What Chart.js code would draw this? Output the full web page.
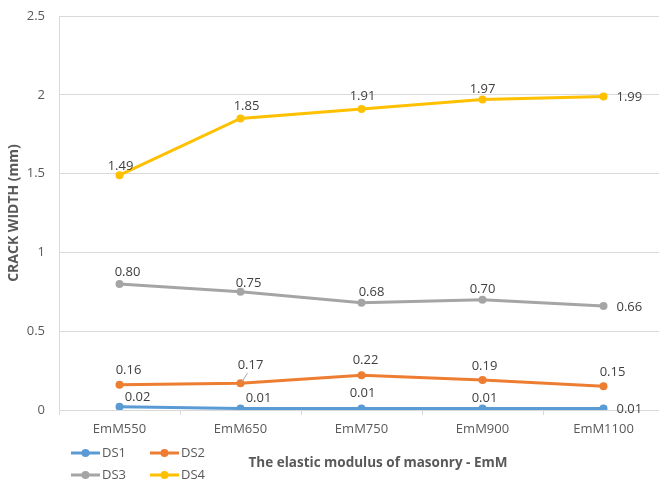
<!DOCTYPE html>
<html>
<head>
<meta charset="utf-8">
<script src="https://cdn.jsdelivr.net/npm/chart.js@4/dist/chart.umd.min.js"></script>
<style>
  html, body { margin: 0; padding: 0; background: #fff; overflow: hidden; }
  #wrap { width: 659px; height: 483px; overflow: hidden; position: relative; }
  canvas { display: block; }
</style>
</head>
<body>
<div id="wrap"><canvas id="c" width="668" height="483"></canvas></div>
<script>
// Crack width (mm) per damage state for each masonry elastic modulus case
const categories = ['EmM550', 'EmM650', 'EmM750', 'EmM900', 'EmM1100'];
const seriesNames = ['DS1', 'DS2', 'DS3', 'DS4'];
const ds1 = [0.02, 0.01, 0.01, 0.01, 0.01];
const ds2 = [0.16, 0.17, 0.22, 0.19, 0.15];
const ds3 = [0.80, 0.75, 0.68, 0.70, 0.66];
const ds4 = [1.49, 1.85, 1.91, 1.97, 1.99];
const yTickValues = [0, 0.5, 1, 1.5, 2, 2.5];

const colors = ['#5B9BD5', '#ED7D31', '#A5A5A5', '#FFC000'];
const FONT = '"Open Sans", "Noto Sans", sans-serif';
const TEXT = '#595959';

// Value-label placement per series/point: [dx, dy] from the marker (label centre),
// or ['r', dx, dy] for a left-aligned label to the right of the marker.
const labelPlacement = [
  [[18, -10], [18, -10], [1, -15], [2, -10], ['r', 13, 1]],
  [[9, -14], [10, -18], [4, -15], [2, -14], [9, -14]],
  [[8, -12], [8, -9], [10, -11], [0, -10], ['r', 13, 1]],
  [[1, -9], [6, -12], [1, -13], [0, -10], ['r', 13, 1]]
];
// Leader line drawn for labels that sit away from their marker
const leaders = { '1-1': true };

const valueLabels = {
  id: 'valueLabels',
  afterDatasetsDraw(chart) {
    const ctx = chart.ctx;
    ctx.save();
    ctx.font = '13px ' + FONT;
    ctx.fillStyle = '#404040';
    ctx.textBaseline = 'middle';
    chart.data.datasets.forEach((ds, di) => {
      const meta = chart.getDatasetMeta(di);
      meta.data.forEach((pt, i) => {
        const txt = ds.data[i].toFixed(2);
        const p = labelPlacement[di][i];
        let lx, ly;
        if (p[0] === 'r') {
          ctx.textAlign = 'left';
          lx = pt.x + p[1]; ly = pt.y + p[2];
        } else {
          ctx.textAlign = 'center';
          lx = pt.x + p[0]; ly = pt.y + p[1];
        }
        if (leaders[di + '-' + i]) {
          ctx.save();
          ctx.strokeStyle = '#A6A6A6';
          ctx.lineWidth = 1;
          ctx.beginPath();
          ctx.moveTo(lx - 3, ly + 8);
          ctx.lineTo(pt.x + 1, pt.y - 1);
          ctx.stroke();
          ctx.restore();
        }
        ctx.fillText(txt, lx, ly);
      });
    });
    ctx.restore();
  }
};

// Two-by-two legend and the category-axis title beneath the plot
const bottomLegend = {
  id: 'bottomLegend',
  afterDraw(chart) {
    const ctx = chart.ctx;
    ctx.save();
    const cols = [71, 150];
    const rows = [453, 475];
    chart.data.datasets.forEach((ds, di) => {
      const x = cols[di % 2];
      const y = rows[Math.floor(di / 2)];
      ctx.strokeStyle = ds.borderColor;
      ctx.lineWidth = 3;
      ctx.beginPath();
      ctx.moveTo(x, y);
      ctx.lineTo(x + 29, y);
      ctx.stroke();
      ctx.fillStyle = ds.borderColor;
      ctx.beginPath();
      ctx.arc(x + 14.5, y, 4, 0, Math.PI * 2);
      ctx.fill();
      ctx.fillStyle = TEXT;
      ctx.font = '13px ' + FONT;
      ctx.textAlign = 'left';
      ctx.textBaseline = 'middle';
      ctx.fillText(ds.label, x + 31, y);
    });
    ctx.font = 'bold 13.5px ' + FONT;
    ctx.fillStyle = TEXT;
    ctx.textAlign = 'center';
    ctx.textBaseline = 'middle';
    ctx.fillText('The elastic modulus of masonry - EmM', 378, 463);
    ctx.restore();
  }
};

const seriesData = [ds1, ds2, ds3, ds4];

new Chart(document.getElementById('c'), {
  type: 'line',
  data: {
    labels: categories,
    datasets: seriesNames.map((name, i) => ({
      label: name,
      data: seriesData[i],
      borderColor: colors[i],
      backgroundColor: colors[i],
      pointBackgroundColor: colors[i],
      pointBorderColor: colors[i],
      borderWidth: 3,
      pointRadius: 4,
      pointBorderWidth: 0,
      tension: 0,
      fill: false
    }))
  },
  options: {
    responsive: false,
    animation: false,
    devicePixelRatio: 1,
    layout: { padding: { top: 16, right: 3, bottom: 0, left: 0 } },
    plugins: {
      legend: { display: false },
      tooltip: { enabled: false }
    },
    scales: {
      x: {
        type: 'category',
        offset: true,
        grid: {
          offset: true,
          drawOnChartArea: false,
          drawTicks: true,
          tickLength: 5,
          color: '#D9D9D9'
        },
        border: { display: true, color: '#D9D9D9' },
        ticks: {
          color: TEXT,
          font: { family: FONT, size: 13 },
          padding: 6,
          maxRotation: 0
        },
        afterFit(scale) {
          scale.height = 73;
          scale.paddingLeft = 0;
          scale.paddingRight = 0;
        }
      },
      y: {
        min: 0,
        max: 2.5,
        afterBuildTicks(scale) { scale.ticks = yTickValues.map(v => ({ value: v })); },
        grid: { color: '#D9D9D9', drawTicks: false },
        border: { display: true, color: '#D9D9D9' },
        ticks: {
          color: TEXT,
          font: { family: FONT, size: 13 },
          padding: 14,
          callback: v => String(v)
        },
        title: {
          display: true,
          text: 'CRACK WIDTH (mm)',
          color: TEXT,
          font: { family: FONT, size: 14, weight: 'bold' },
          padding: { top: 6, bottom: 0 }
        },
        afterFit(scale) {
          scale.width = 59;
          scale.paddingTop = 0;
          scale.paddingBottom = 0;
        }
      }
    }
  },
  plugins: [valueLabels, bottomLegend]
});
</script>
</body>
</html>
